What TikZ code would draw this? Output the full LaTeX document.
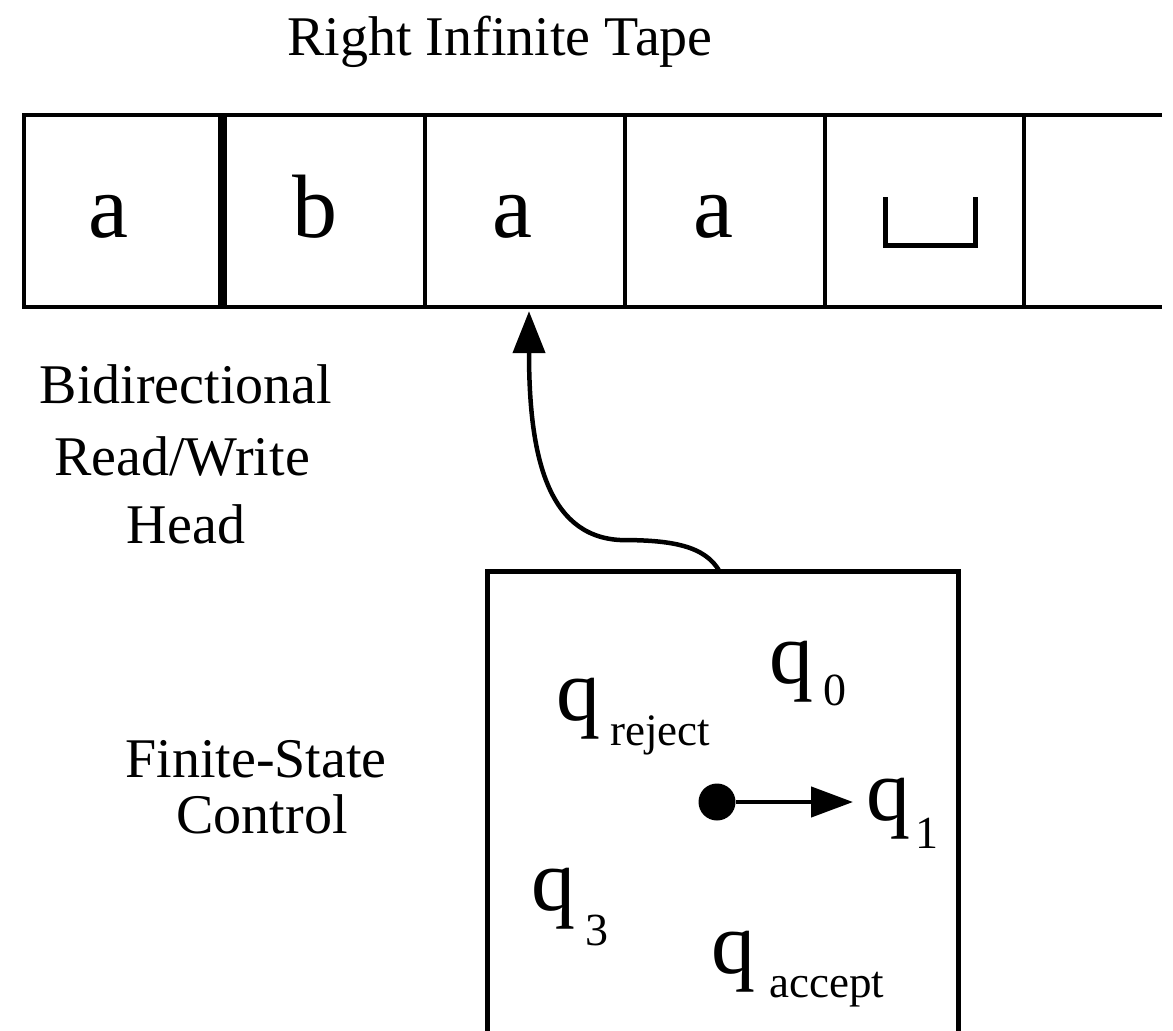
\documentclass[tikz,border=0pt]{standalone}
\usepackage{fontspec}
\setmainfont{Liberation Serif}
\usetikzlibrary{arrows.meta,calc}
\begin{document}
\begin{tikzpicture}[x=1pt,y=-1pt,
  ln/.style={line width=4.5pt},
  thickln/.style={line width=9pt},
  cell/.style={minimum width=200pt,minimum height=192pt,inner sep=0pt,draw=none},
  tapetxt/.style={anchor=base,inner sep=0pt,font=\fontsize{90}{90}\selectfont},
  lbl/.style={anchor=base,inner sep=0pt,font=\fontsize{56}{56}\selectfont},
  st/.style={anchor=base west,inner sep=0pt,font=\fontsize{88}{88}\selectfont},
  headarrow/.style={line width=4.5pt,-{Triangle[length=42pt,width=32pt]}},
  movearrow/.style={line width=4.5pt,-{Triangle[length=42pt,width=30pt]}},
]
\useasboundingbox (0,0) rectangle (1173,1031);
\clip (0,0) rectangle (1173,1031);

% title
\node[lbl] (title) at (500,55) {Right Infinite Tape};

% tape cells
\node[cell] (c1) at (123,211) {};
\node[cell] (c2) at (323,211) {};
\node[cell] (c3) at (525,211) {};
\node[cell] (c4) at (725,211) {};
\node[cell] (c5) at (925,211) {};
\node[cell] (c6) at (1093,211) {};

\draw[ln] (1162,115) -- (24,115) -- (24,307) -- (1162,307);
\draw[thickln] (222,115) -- (222,307);
\foreach \x in {425,625,825,1024} \draw[ln] (\x,115) -- (\x,307);

\node[tapetxt] (t1) at (108,237) {a};
\node[tapetxt] (t2) at (315,237) {b};
\node[tapetxt] (t3) at (512,237) {a};
\node[tapetxt] (t4) at (713,237) {a};
\draw[line width=5pt] (885,197) -- (885,245) -- (975,245) -- (975,197);

% left labels
\node[lbl] (bid1) at (186,403) {Bidirectional};
\node[lbl] (bid2) at (182,475) {Read/Write};
\node[lbl] (bid3) at (186,543) {Head};
\node[lbl] (fsc1) at (256,777) {Finite-State};
\node[lbl] (fsc2) at (262,833) {Control};

% control box
\node[minimum width=470pt,minimum height=480pt,inner sep=0pt] (ctrl) at (723,812) {};
\draw[line width=5pt] (ctrl.south west) -- (ctrl.north west) -- (ctrl.north east) -- (ctrl.south east);

% head arrow
\draw[headarrow] ($(ctrl.north west)+(232,0)$) .. controls (705,545) and (670,540) .. (620,540)
  .. controls (545,536) and (529,450) .. ($(c3.south)+(4,4)$);

% states
\node[st] (qrej) at (556,720) {q\hspace{10pt}\raisebox{-25pt}{\fontsize{45}{45}\selectfont reject}};
\node[st] (q0) at (769,683) {q\hspace{10pt}\raisebox{-22pt}{\fontsize{46}{46}\selectfont 0}};
\node[st] (q1) at (866,820) {q\hspace{5pt}\raisebox{-28pt}{\fontsize{46}{46}\selectfont 1}};
\node[st] (q3) at (531,910) {q\hspace{10pt}\raisebox{-35pt}{\fontsize{46}{46}\selectfont 3}};
\node[st] (qacc) at (711,973) {q\hspace{14pt}\raisebox{-24pt}{\fontsize{45}{45}\selectfont accept}};

\node[circle,fill,minimum size=37pt,inner sep=0pt] (dot) at (717,802) {};
\draw[movearrow] (dot.east) -- ($(dot.east -| q1.west)+(-13,0)$);
\end{tikzpicture}
\end{document}
